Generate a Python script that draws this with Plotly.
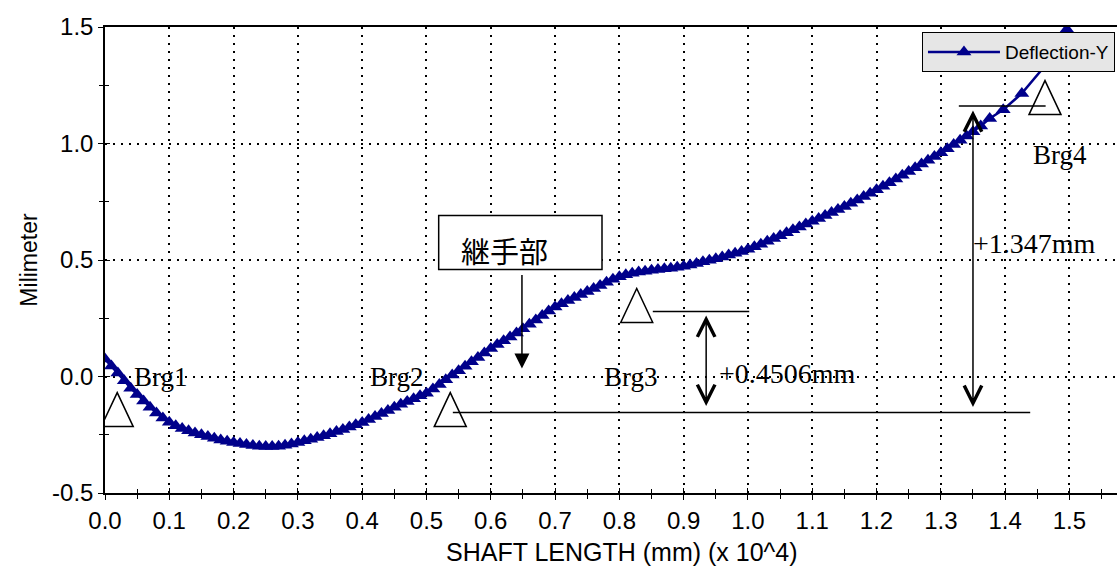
import plotly.graph_objects as go

# ---------------- data ----------------
shaft_x = [0.00, 0.01, 0.02, 0.03, 0.04, 0.05, 0.06, 0.07, 0.08, 0.09,
           0.10, 0.11, 0.12, 0.13, 0.14, 0.15, 0.16, 0.17, 0.18, 0.19,
           0.20, 0.21, 0.22, 0.23, 0.24, 0.25, 0.26, 0.27, 0.28, 0.29,
           0.30, 0.31, 0.32, 0.33, 0.34, 0.35, 0.36, 0.37, 0.38, 0.39,
           0.40, 0.41, 0.42, 0.43, 0.44, 0.45, 0.46, 0.47, 0.48, 0.49,
           0.50, 0.51, 0.52, 0.53, 0.54, 0.55, 0.56, 0.57, 0.58, 0.59,
           0.60, 0.61, 0.62, 0.63, 0.64, 0.65, 0.66, 0.67, 0.68, 0.69,
           0.70, 0.71, 0.72, 0.73, 0.74, 0.75, 0.76, 0.77, 0.78, 0.79,
           0.80, 0.81, 0.82, 0.83, 0.84, 0.85, 0.86, 0.87, 0.88, 0.89,
           0.90, 0.91, 0.92, 0.93, 0.94, 0.95, 0.96, 0.97, 0.98, 0.99,
           1.00, 1.01, 1.02, 1.03, 1.04, 1.05, 1.06, 1.07, 1.08, 1.09,
           1.10, 1.11, 1.12, 1.13, 1.14, 1.15, 1.16, 1.17, 1.18, 1.19,
           1.20, 1.21, 1.22, 1.23, 1.24, 1.25, 1.26, 1.27, 1.28, 1.29,
           1.30, 1.31, 1.32, 1.33, 1.34, 1.35, 1.362, 1.376, 1.397, 1.426,
           1.465, 1.496]
deflection_y = [0.075, 0.045, 0.015, -0.018, -0.050, -0.077, -0.105, -0.132, -0.157, -0.178,
                -0.196, -0.211, -0.223, -0.233, -0.242, -0.250, -0.258, -0.265, -0.272, -0.278,
                -0.283, -0.288, -0.292, -0.296, -0.299, -0.300, -0.300, -0.299, -0.295, -0.290,
                -0.283, -0.276, -0.269, -0.262, -0.254, -0.246, -0.236, -0.227, -0.217, -0.207,
                -0.197, -0.185, -0.172, -0.159, -0.146, -0.132, -0.119, -0.107, -0.095, -0.083,
                -0.072, -0.054, -0.034, -0.014, 0.006, 0.025, 0.044, 0.063, 0.082, 0.101,
                0.120, 0.137, 0.153, 0.170, 0.187, 0.205, 0.224, 0.243, 0.262, 0.281,
                0.298, 0.312, 0.326, 0.339, 0.352, 0.365, 0.378, 0.391, 0.404, 0.417,
                0.428, 0.437, 0.443, 0.448, 0.452, 0.456, 0.459, 0.462, 0.465, 0.469,
                0.473, 0.479, 0.485, 0.492, 0.499, 0.505, 0.513, 0.521, 0.529, 0.537,
                0.546, 0.557, 0.568, 0.580, 0.592, 0.604, 0.617, 0.630, 0.642, 0.654,
                0.666, 0.678, 0.691, 0.704, 0.717, 0.730, 0.744, 0.758, 0.772, 0.787,
                0.802, 0.817, 0.832, 0.848, 0.864, 0.880, 0.896, 0.912, 0.928, 0.944,
                0.960, 0.978, 0.996, 1.014, 1.032, 1.050, 1.075, 1.107, 1.145, 1.215,
                1.343, 1.490]

x_tick_vals = [0.0, 0.1, 0.2, 0.3, 0.4, 0.5, 0.6, 0.7, 0.8, 0.9, 1.0, 1.1, 1.2, 1.3, 1.4, 1.5]
x_tick_text = ["0.0", "0.1", "0.2", "0.3", "0.4", "0.5", "0.6", "0.7", "0.8", "0.9",
               "1.0", "1.1", "1.2", "1.3", "1.4", "1.5"]
y_tick_vals = [-0.5, 0.0, 0.5, 1.0, 1.5]
y_tick_text = ["-0.5", "0.0", "0.5", "1.0", "1.5"]

x_title = "SHAFT LENGTH (mm) (x 10^4)"
y_title = "Milimeter"

# bearings
bearing_names = ["Brg1", "Brg2", "Brg3", "Brg4"]
bearing_x = [0.019, 0.537, 0.827, 1.462]
bearing_base_y = [-0.215, -0.215, 0.232, 1.124]
bearing_label_x = [0.087, 0.454, 0.818, 1.486]
bearing_label_y = [0.0, 0.0, 0.0, 0.950]

# reference level lines (x0, x1, y)
level_x0 = [0.541, 0.852, 1.328]
level_x1 = [1.439, 1.002, 1.463]
level_y = [-0.155, 0.279, 1.161]

# dimension arrows
dim_text = ["+0.4506mm", "+1.347mm"]
dim_x = [0.935, 1.350]
dim_top = [0.262, 1.142]
dim_bottom = [-0.133, -0.137]
dim_label_x = [1.062, 1.446]
dim_label_y = [0.013, 0.571]

# joint callout
joint_text = "継手部"
joint_box = [0.519, 0.773, 0.459, 0.691]   # x0, x1, y0, y1
joint_text_xy = [0.622, 0.541]
joint_arrow_x = 0.6485
joint_arrow_from = 0.442
joint_arrow_to = 0.034

X_RANGE = [0, 1.574]
Y_RANGE = [-0.5, 1.5]

# ---------------- figure ----------------
fig = go.Figure()
fig.add_trace(go.Scatter(
    x=shaft_x, y=deflection_y, mode="lines+markers", name="Deflection-Y",
    line=dict(color="#00008B", width=2.5),
    marker=dict(symbol="triangle-up", size=13, color="#00008B"),
))
# empty helper trace so the overlay axes (inner half of crossing ticks) are drawn
fig.add_trace(go.Scatter(x=[None], y=[None], xaxis="x2", yaxis="y2", showlegend=False,
                         hoverinfo="skip"))

serif = "Liberation Serif, Times New Roman, serif"
sans = "Liberation Sans, Arial, sans-serif"

shapes = []
annotations = []

for bx, by in zip(bearing_x, bearing_base_y):
    shapes.append(dict(type="path", xref="x", yref="y", xsizemode="pixel", ysizemode="pixel",
                       xanchor=bx, yanchor=by, path="M-16,0 L16,0 L0,34 Z",
                       line=dict(color="black", width=1.5), fillcolor="rgba(0,0,0,0)", layer="above"))

for name, lx, ly in zip(bearing_names, bearing_label_x, bearing_label_y):
    annotations.append(dict(x=lx, y=ly, xref="x", yref="y", text=name, showarrow=False,
                            font=dict(family=serif, size=27, color="black"),
                            xanchor="center", yanchor="middle"))

for x0, x1, y in zip(level_x0, level_x1, level_y):
    shapes.append(dict(type="line", xref="x", yref="y", x0=x0, x1=x1, y0=y, y1=y,
                       line=dict(color="black", width=1.5), layer="above"))

for t, dx, top, bot, lx, ly in zip(dim_text, dim_x, dim_top, dim_bottom, dim_label_x, dim_label_y):
    annotations.append(dict(x=dx, y=top, ax=dx, ay=bot, xref="x", yref="y", axref="x", ayref="y",
                            text="", showarrow=True, arrowhead=5, startarrowhead=5,
                            arrowside="end+start", arrowsize=2.3, startarrowsize=2.3,
                            arrowwidth=1.5, arrowcolor="black", standoff=0, startstandoff=0))
    annotations.append(dict(x=lx, y=ly, xref="x", yref="y", text=t, showarrow=False,
                            font=dict(family=serif, size=28, color="black"),
                            xanchor="center", yanchor="middle"))

shapes.append(dict(type="rect", xref="x", yref="y", x0=joint_box[0], x1=joint_box[1],
                   y0=joint_box[2], y1=joint_box[3], line=dict(color="black", width=1.5),
                   fillcolor="white", layer="above"))
annotations.append(dict(x=joint_text_xy[0], y=joint_text_xy[1], xref="x", yref="y", text=joint_text,
                        showarrow=False, font=dict(family="Noto Sans CJK JP", size=29, color="black"),
                        xanchor="center", yanchor="middle"))
annotations.append(dict(x=joint_arrow_x, y=joint_arrow_to, ax=joint_arrow_x, ay=joint_arrow_from,
                        xref="x", yref="y", axref="x", ayref="y", text="", showarrow=True,
                        arrowhead=2, arrowsize=2, arrowwidth=1.5, arrowcolor="black", standoff=0))

# x-axis title (placed slightly right of the plot centre, as in the original)
annotations.append(dict(x=0.511, y=-0.127, xref="paper", yref="paper", text=x_title,
                        showarrow=False, font=dict(family=sans, size=25, color="black"),
                        xanchor="center", yanchor="middle"))

axis_common = dict(
    showgrid=True, gridcolor="black", gridwidth=1.5, griddash="2px,6px",
    showline=True, linecolor="black", linewidth=1.5,
    ticks="outside", ticklen=5, tickcolor="black", tickwidth=1,
    zeroline=False,
    tickfont=dict(family=sans, size=24, color="black"),
)

fig.update_layout(
    width=1119, height=579,
    margin=dict(l=105, r=2, t=27, b=86, pad=0),
    paper_bgcolor="white", plot_bgcolor="white",
    shapes=shapes, annotations=annotations,
    showlegend=True,
    legend=dict(x=0.998, y=0.989, xanchor="right", yanchor="top",
                bgcolor="#e6e6e6", bordercolor="black", borderwidth=1,
                font=dict(family=sans, size=19, color="black"), itemwidth=72),
    xaxis=dict(range=X_RANGE, tickvals=x_tick_vals, ticktext=x_tick_text, mirror=True,
               minor=dict(dtick=0.05, tick0=0, ticks="outside", ticklen=4, tickcolor="black", showgrid=False),
               **axis_common),
    yaxis=dict(range=Y_RANGE, tickvals=y_tick_vals, ticktext=y_tick_text,
               minor=dict(dtick=0.25, tick0=0, ticks="outside", ticklen=4, tickcolor="black", showgrid=False),
               title=dict(text=y_title, font=dict(family=sans, size=23, color="black"), standoff=8),
               **axis_common),
    xaxis2=dict(range=X_RANGE, overlaying="x", anchor="y2", side="bottom",
                tickvals=x_tick_vals, showticklabels=False, showgrid=False, showline=False,
                zeroline=False, ticks="inside", ticklen=5, tickcolor="black", tickwidth=1,
                minor=dict(dtick=0.05, tick0=0, ticks="inside", ticklen=4, tickcolor="black", showgrid=False)),
    yaxis2=dict(range=Y_RANGE, overlaying="y", anchor="x2", side="left",
                tickvals=y_tick_vals, showticklabels=False, showgrid=False, showline=False,
                zeroline=False, ticks="inside", ticklen=5, tickcolor="black", tickwidth=1,
                minor=dict(dtick=0.25, tick0=0, ticks="inside", ticklen=4, tickcolor="black", showgrid=False)),
)

fig.write_html("out.html")
